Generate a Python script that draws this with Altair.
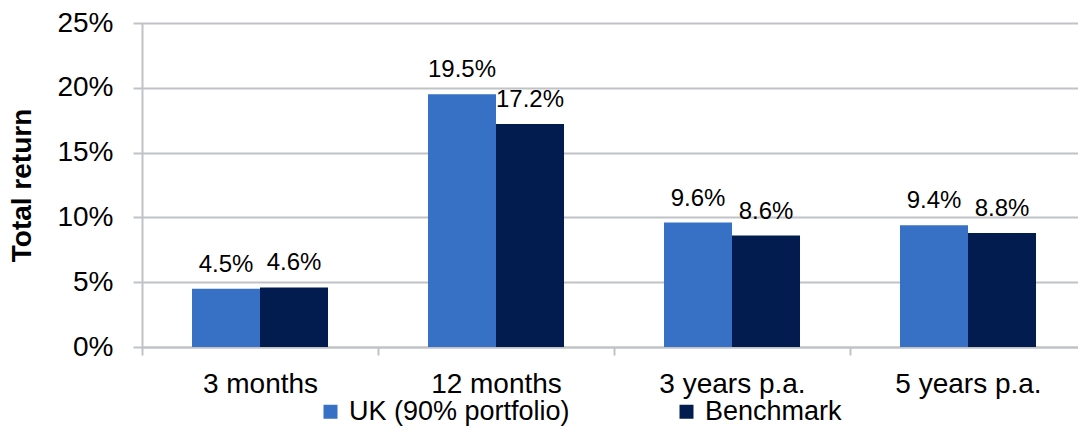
import altair as alt
import pandas as pd

categories = ["3 months", "12 months", "3 years p.a.", "5 years p.a."]
series_names = ["UK (90% portfolio)", "Benchmark"]
uk_values = [0.045, 0.195, 0.096, 0.094]
benchmark_values = [0.046, 0.172, 0.086, 0.088]
colors = ["#3671C6", "#021C50"]
y_ticks = [0, 0.05, 0.10, 0.15, 0.20, 0.25]

rows = []
for c, u, b in zip(categories, uk_values, benchmark_values):
    rows.append({"category": c, "series": series_names[0], "value": u})
    rows.append({"category": c, "series": series_names[1], "value": b})
df = pd.DataFrame(rows)

FONT = "Liberation Sans"
GRAY = "#C0C2C5"

x_enc = alt.X(
    "category:N",
    sort=categories,
    scale=alt.Scale(range=[0, 944], paddingInner=0, paddingOuter=0),
    axis=alt.Axis(
        title=None,
        labelAngle=0,
        labelFontSize=28,
        labelFont=FONT,
        labelColor="#000000",
        labelPadding=15,
        tickBand="extent",
        tickSize=8,
        tickWidth=2,
        tickColor=GRAY,
        domainColor=GRAY,
        domainWidth=2,
        grid=False,
    ),
)
xoff_enc = alt.XOffset(
    "series:N",
    sort=series_names,
    scale=alt.Scale(paddingOuter=0.735, paddingInner=0),
)
y_enc = alt.Y(
    "value:Q",
    scale=alt.Scale(domain=[0, 0.25], nice=False),
    axis=alt.Axis(
        title="Total return",
        titleFont=FONT,
        titleFontSize=28,
        titleFontWeight="bold",
        titleColor="#000000",
        titleAngle=-90,
        titleBaseline="alphabetic",
        titleAlign="center",
        titleX=-112,
        titleY=162,
        values=y_ticks,
        format=".0%",
        labelFontSize=28,
        labelFont=FONT,
        labelColor="#000000",
        labelPadding=20,
        tickSize=9,
        tickWidth=2,
        tickColor=GRAY,
        domainColor=GRAY,
        domainWidth=2,
        grid=True,
        gridColor=GRAY,
        gridWidth=2,
    ),
)

bars = alt.Chart(df).mark_bar().encode(
    x=x_enc,
    xOffset=xoff_enc,
    y=y_enc,
    color=alt.Color(
        "series:N",
        sort=series_names,
        scale=alt.Scale(domain=series_names, range=colors),
        legend=alt.Legend(
            title=None,
            orient="none",
            direction="horizontal",
            legendX=175,
            legendY=375,
            padding=0,
            symbolType="square",
            symbolSize=196,
            symbolStrokeWidth=0,
            labelFontSize=27,
            labelFont=FONT,
            labelColor="#000000",
            labelOffset=5,
            columnPadding=103,
            labelLimit=400,
        ),
    ),
)

labels = alt.Chart(df).mark_text(
    fontSize=24, font=FONT, color="#000000", dy=-17, baseline="alphabetic"
).encode(
    x=x_enc,
    xOffset=xoff_enc,
    y=alt.Y("value:Q"),
    text=alt.Text("value:Q", format=".1%"),
)

chart = alt.layer(bars, labels).properties(
    width=936,
    height=324,
    autosize=alt.AutoSizeParams(type="none"),
    padding={"left": 142, "top": 23, "right": 0, "bottom": 81},
).configure_view(stroke=None).configure(background="#ffffff")

chart.save("out.html", embed_options={"renderer": "svg", "actions": False})
